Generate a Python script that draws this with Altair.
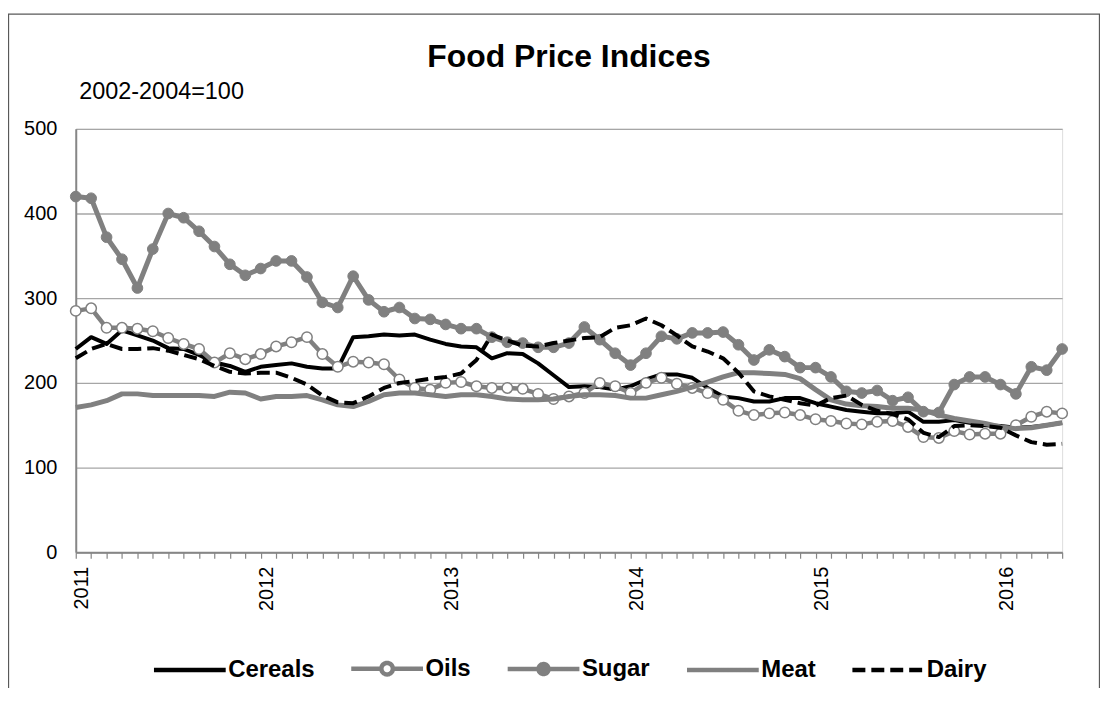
import altair as alt
import pandas as pd

# ---------------- data (monthly, Jan 2011 .. May 2016) ----------------
series_names = ["Cereals", "Oils", "Sugar", "Meat", "Dairy"]
first_year = 2011
y_ticks = [0, 100, 200, 300, 400, 500]

cereals = [240, 254, 246, 262, 256, 250, 241, 240, 233, 224, 220, 213,
           219, 221, 223, 219, 217, 217, 254, 255, 257, 256, 257, 251,
           246, 243, 242, 229, 235, 234, 223, 209, 195, 196, 195, 192,
           196, 204, 210, 210, 206, 194, 184, 182, 178, 178, 182, 182,
           176, 172, 168, 166, 164, 164, 166, 154, 154, 156, 153, 150,
           149, 147, 148, 150, 153]
oils = [285, 288, 265, 265, 264, 261, 253, 246, 240, 224, 235, 228,
        234, 243, 248, 254, 234, 219, 225, 224, 222, 204, 194, 192,
        200, 201, 196, 194, 194, 193, 187, 181, 184, 188, 200, 196,
        188, 200, 206, 199, 194, 188, 180, 167, 162, 164, 165, 162,
        157, 155, 152, 151, 154, 155, 148, 136, 135, 143, 139, 140,
        140, 150, 160, 166, 164]
sugar = [420, 418, 372, 346, 312, 358, 400, 395, 379, 361, 340, 327,
         335, 344, 344, 325, 295, 289, 326, 298, 284, 289, 276, 275,
         269, 264, 264, 254, 248, 247, 242, 242, 247, 266, 251, 235,
         221, 235, 255, 252, 259, 259, 260, 245, 227, 239, 231, 218,
         218, 207, 190, 188, 191, 179, 183, 166, 165, 198, 207, 207,
         198, 187, 219, 215, 240]
meat = [171, 174, 179, 187, 187, 185, 185, 185, 185, 184, 189, 188,
        181, 184, 184, 185, 180, 174, 172, 178, 186, 188, 188, 186,
        184, 186, 186, 184, 181, 180, 180, 181, 184, 186, 186, 185,
        182, 182, 186, 190, 195, 201, 207, 212, 212, 211, 210, 205,
        192, 180, 175, 173, 172, 170, 170, 168, 162, 158, 155, 152,
        148, 146, 147, 150, 153]
dairy = [229, 240, 246, 240, 240, 241, 238, 233, 228, 220, 213, 211,
         212, 212, 206, 198, 185, 177, 176, 184, 194, 200, 202, 205,
         207, 211, 227, 257, 250, 244, 243, 247, 250, 253, 254, 265,
         268, 276, 268, 256, 243, 237, 229, 212, 190, 184, 180, 176,
         173, 182, 185, 174, 167, 163, 157, 141, 136, 149, 150, 149,
         147, 138, 130, 127, 128]

frames = []
for name, vals in zip(series_names, [cereals, oils, sugar, meat, dairy]):
    frames.append(pd.DataFrame({"series": name,
                                "month": list(range(len(vals))),
                                "value": vals}))
df = pd.concat(frames, ignore_index=True)
n_months = len(cereals)

# ---------------- styles ----------------
FONT = "Liberation Sans"
GREY = "#808080"
AXIS_GREY = "#868686"
DAIRY_DASH = [13, 6]

x_enc = alt.X(
    "month:Q",
    scale=alt.Scale(domain=[0, n_months - 1], nice=False, zero=False),
    axis=alt.Axis(
        values=list(range(n_months)),
        labelExpr=f"datum.value % 12 == 0 ? '' + ({first_year} + datum.value / 12) : ''",
        labelAngle=270,
        labelOverlap=False,
        labelFlush=False,
        labelFontSize=20,
        labelPadding=8,
        labelOffset=6,
        tickSize=6,
        tickColor=AXIS_GREY,
        tickWidth=1.2,
        domainColor=AXIS_GREY,
        domainWidth=2,
        grid=False,
        title=None,
    ),
)
y_enc = alt.Y(
    "value:Q",
    scale=alt.Scale(domain=[0, 500], nice=False),
    axis=alt.Axis(
        values=y_ticks,
        ticks=False,
        grid=True,
        gridColor="#a6a6a6",
        gridWidth=1.3,
        domainColor=AXIS_GREY,
        domainWidth=2,
        labelFontSize=20,
        labelPadding=19,
        title="2002-2004=100",
        titleAngle=0,
        titleAlign="left",
        titleBaseline="middle",
        titleX=3,
        titleY=-37,
        titleFontSize=23.5,
        titleFontWeight="normal",
    ),
)

base = alt.Chart(df)


def line_layer(name, color, width, dash=None):
    kw = dict(color=color, strokeWidth=width, strokeJoin="round")
    if dash is not None:
        kw["strokeDash"] = dash
    return (base.transform_filter(alt.datum.series == name)
            .mark_line(**kw)
            .encode(x=x_enc, y=y_enc))


cereals_line = line_layer("Cereals", "black", 4)
oils_line = line_layer("Oils", GREY, 4.5)
oils_pts = (base.transform_filter(alt.datum.series == "Oils")
            .mark_point(shape="circle", filled=True, fill="white", stroke=GREY,
                        strokeWidth=1.5, size=110, opacity=1)
            .encode(x=x_enc, y=y_enc))
sugar_line = line_layer("Sugar", GREY, 5)
sugar_pts = (base.transform_filter(alt.datum.series == "Sugar")
             .mark_point(shape="circle", filled=True, fill=GREY, stroke=GREY,
                         strokeWidth=1, size=115, opacity=1)
             .encode(x=x_enc, y=y_enc))
meat_line = line_layer("Meat", GREY, 5)
dairy_line = line_layer("Dairy", "black", 4, DAIRY_DASH)

# ---------------- legend (library legend with custom symbols) ----------------
legend_paths = [
    "M-1,0H1",
    "M-1,0H-0.16M0.16,0H1M-0.16,0A0.16,0.16,0,1,0,0.16,0A0.16,0.16,0,1,0,-0.16,0Z",
    "M-1,0H1M-0.14,0A0.14,0.14,0,1,0,0.14,0A0.14,0.14,0,1,0,-0.14,0Z",
    "M-1,0H1",
    "M-1,0H1",
]
stroke_colors = ["black", GREY, GREY, GREY, "black"]
fill_colors = ["black", "white", GREY, GREY, "black"]
dashes = [[1, 0], [1, 0], [1, 0], [1, 0], DAIRY_DASH]

leg_def = alt.Legend(
    title=None,
    orient="none",
    legendX=76,
    legendY=503,
    direction="horizontal",
    columns=5,
    symbolSize=72 * 72,
    symbolStrokeWidth=4.5,
    labelFont=FONT,
    labelFontSize=24,
    labelFontWeight="bold",
    labelColor="black",
    labelOffset=0,
    columnPadding=27,
)
legend_layer = (base.transform_filter("false")
                .mark_point(filled=True, strokeWidth=4.5, opacity=1)
                .encode(
                    shape=alt.Shape("series:N", scale=alt.Scale(domain=series_names, range=legend_paths), legend=leg_def),
                    stroke=alt.Stroke("series:N", scale=alt.Scale(domain=series_names, range=stroke_colors), legend=leg_def),
                    fill=alt.Fill("series:N", scale=alt.Scale(domain=series_names, range=fill_colors), legend=leg_def),
                    strokeDash=alt.StrokeDash("series:N", scale=alt.Scale(domain=series_names, range=dashes), legend=leg_def),
                ))

# outer frame of the picture
frame = (alt.Chart(pd.DataFrame({"k": [0]}))
         .mark_rect(filled=False, stroke="#595959", strokeWidth=1.3)
         .encode(x=alt.value(-67.5), x2=alt.value(1027.5),
                 y=alt.value(-115), y2=alt.value(580)))

chart = (
    alt.layer(frame, cereals_line, oils_line, oils_pts, sugar_line, sugar_pts,
              meat_line, dairy_line, legend_layer)
    .properties(
        width=990,
        height=425,
        padding={"left": 68, "top": 120, "right": 38, "bottom": 135},
        autosize=alt.AutoSizeParams(type="none"),
        title=alt.TitleParams("Food Price Indices", fontSize=32, fontWeight="bold",
                              font=FONT, anchor="middle", offset=0, dy=86,
                              baseline="alphabetic", color="black"),
    )
    .configure_view(stroke=AXIS_GREY, strokeWidth=2)
    .configure_axis(labelFont=FONT, titleFont=FONT, labelColor="black", titleColor="black")
    .configure(background="white")
)

chart.save("out.html", embed_options={"renderer": "svg", "actions": False})
